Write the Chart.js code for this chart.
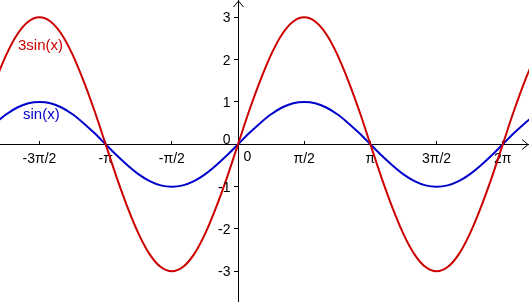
<!DOCTYPE html>
<html>
<head>
<meta charset="utf-8">
<script src="https://cdn.jsdelivr.net/npm/chart.js@4/dist/chart.umd.min.js"></script>
<style>
  html, body { margin: 0; padding: 0; background: #fff; }
  canvas { display: block; }
</style>
</head>
<body>
<canvas id="c" width="529" height="302"></canvas>
<script>
"use strict";

// x in multiples of π, sampled every π/12
const xs = [-1.833, -1.75, -1.667, -1.583, -1.5, -1.417, -1.333, -1.25, -1.167, -1.083,
  -1, -0.917, -0.833, -0.75, -0.667, -0.583, -0.5, -0.417, -0.333, -0.25,
  -0.167, -0.083, 0, 0.083, 0.167, 0.25, 0.333, 0.417, 0.5, 0.583,
  0.667, 0.75, 0.833, 0.917, 1, 1.083, 1.167, 1.25, 1.333, 1.417,
  1.5, 1.583, 1.667, 1.75, 1.833, 1.917, 2, 2.083, 2.167, 2.25];
const sinY = [0.5, 0.71, 0.87, 0.97, 1, 0.97, 0.87, 0.71, 0.5, 0.26,
  0, -0.26, -0.5, -0.71, -0.87, -0.97, -1, -0.97, -0.87, -0.71,
  -0.5, -0.26, 0, 0.26, 0.5, 0.71, 0.87, 0.97, 1, 0.97,
  0.87, 0.71, 0.5, 0.26, 0, -0.26, -0.5, -0.71, -0.87, -0.97,
  -1, -0.97, -0.87, -0.71, -0.5, -0.26, 0, 0.26, 0.5, 0.71];
const sin3Y = [1.5, 2.12, 2.6, 2.9, 3, 2.9, 2.6, 2.12, 1.5, 0.78,
  0, -0.78, -1.5, -2.12, -2.6, -2.9, -3, -2.9, -2.6, -2.12,
  -1.5, -0.78, 0, 0.78, 1.5, 2.12, 2.6, 2.9, 3, 2.9,
  2.6, 2.12, 1.5, 0.78, 0, -0.78, -1.5, -2.12, -2.6, -2.9,
  -3, -2.9, -2.6, -2.12, -1.5, -0.78, 0, 0.78, 1.5, 2.12];

const xTickVals = [-1.5, -1, -0.5, 0.5, 1, 1.5, 2];
const xTickLabels = ["-3π/2", "-π", "-π/2", "π/2", "π", "3π/2", "2π"];
const yTickVals = [-3, -2, -1, 1, 2, 3];

// curve name labels: [text, x (π units), y, colour]
const curveLabels = [
  ["3sin(x)", -1.662, 2.23, "#cc0000"],
  ["sin(x)", -1.624, 0.6, "#0000cc"],
];

const RED = "#cc0000";
const BLUE = "#0000cc";
const FONT = "'Liberation Sans', Arial, sans-serif";

const pts = (ys) => xs.map((x, i) => ({ x, y: ys[i] }));

// axes cross at the origin and take no layout space
const noSpace = (s) => {
  if (s.isHorizontal()) s.height = 0; else s.width = 0;
  s.paddingTop = s.paddingBottom = s.paddingLeft = s.paddingRight = 0;
};

const decor = {
  id: "decor",
  afterDraw(chart) {
    const { ctx } = chart;
    const sx = chart.scales.x, sy = chart.scales.y;
    const ox = Math.round(sx.getPixelForValue(0)) + 0.5;
    const oy = Math.round(sy.getPixelForValue(0)) + 0.5;
    ctx.save();
    ctx.strokeStyle = "#000";
    ctx.lineWidth = 1;
    ctx.beginPath();
    ctx.moveTo(ox - 5, 7); ctx.lineTo(ox, 1); ctx.lineTo(ox + 5, 7);
    const r = chart.width - 1;
    ctx.moveTo(r - 6, oy - 5); ctx.lineTo(r, oy); ctx.lineTo(r - 6, oy + 5);
    ctx.stroke();

    ctx.fillStyle = "#000";
    ctx.font = "14px " + FONT;
    // y tick labels, left of the axis
    ctx.textAlign = "right";
    ctx.textBaseline = "middle";
    sy.ticks.forEach((t) => ctx.fillText(String(t.value), ox - 8, sy.getPixelForValue(t.value) + 1));
    // origin labels
    ctx.textBaseline = "alphabetic";
    ctx.fillText("0", ox - 8, oy - 1);
    ctx.textBaseline = "top";
    ctx.textAlign = "left";
    ctx.fillText("0", ox + 5, oy + 6);

    ctx.font = "15px " + FONT;
    ctx.textBaseline = "alphabetic";
    curveLabels.forEach(([t, x, y, col]) => {
      ctx.fillStyle = col;
      ctx.fillText(t, sx.getPixelForValue(x), sy.getPixelForValue(y));
    });
    ctx.restore();
  },
};

new Chart(document.getElementById("c"), {
  type: "line",
  data: {
    datasets: [
      { data: pts(sin3Y), borderColor: RED, borderWidth: 2, pointRadius: 0, cubicInterpolationMode: "monotone", fill: false },
      { data: pts(sinY), borderColor: BLUE, borderWidth: 2, pointRadius: 0, cubicInterpolationMode: "monotone", fill: false },
    ],
  },
  options: {
    responsive: false,
    animation: false,
    devicePixelRatio: 1,
    layout: { padding: 0 },
    plugins: { legend: { display: false }, tooltip: { enabled: false } },
    scales: {
      x: {
        type: "linear",
        position: { y: 0 },
        min: -1.798,
        max: 2.198,
        afterBuildTicks: (s) => { s.ticks = xTickVals.map((v) => ({ value: v })); },
        afterFit: noSpace,
        grid: { drawOnChartArea: false, tickLength: -4, color: "#000" },
        border: { color: "#000", width: 1 },
        ticks: {
          color: "#000",
          font: { family: FONT, size: 14 },
          padding: 10,
          maxRotation: 0,
          autoSkip: false,
          callback: (v) => xTickLabels[xTickVals.indexOf(v)],
        },
      },
      y: {
        type: "linear",
        position: { x: 0 },
        min: -3.725,
        max: 3.409,
        afterBuildTicks: (s) => { s.ticks = yTickVals.map((v) => ({ value: v })); },
        afterFit: noSpace,
        grid: { drawOnChartArea: false, tickLength: 4, color: "#000" },
        border: { color: "#000", width: 1 },
        ticks: { display: false },
      },
    },
  },
  plugins: [decor],
});
</script>
</body>
</html>
